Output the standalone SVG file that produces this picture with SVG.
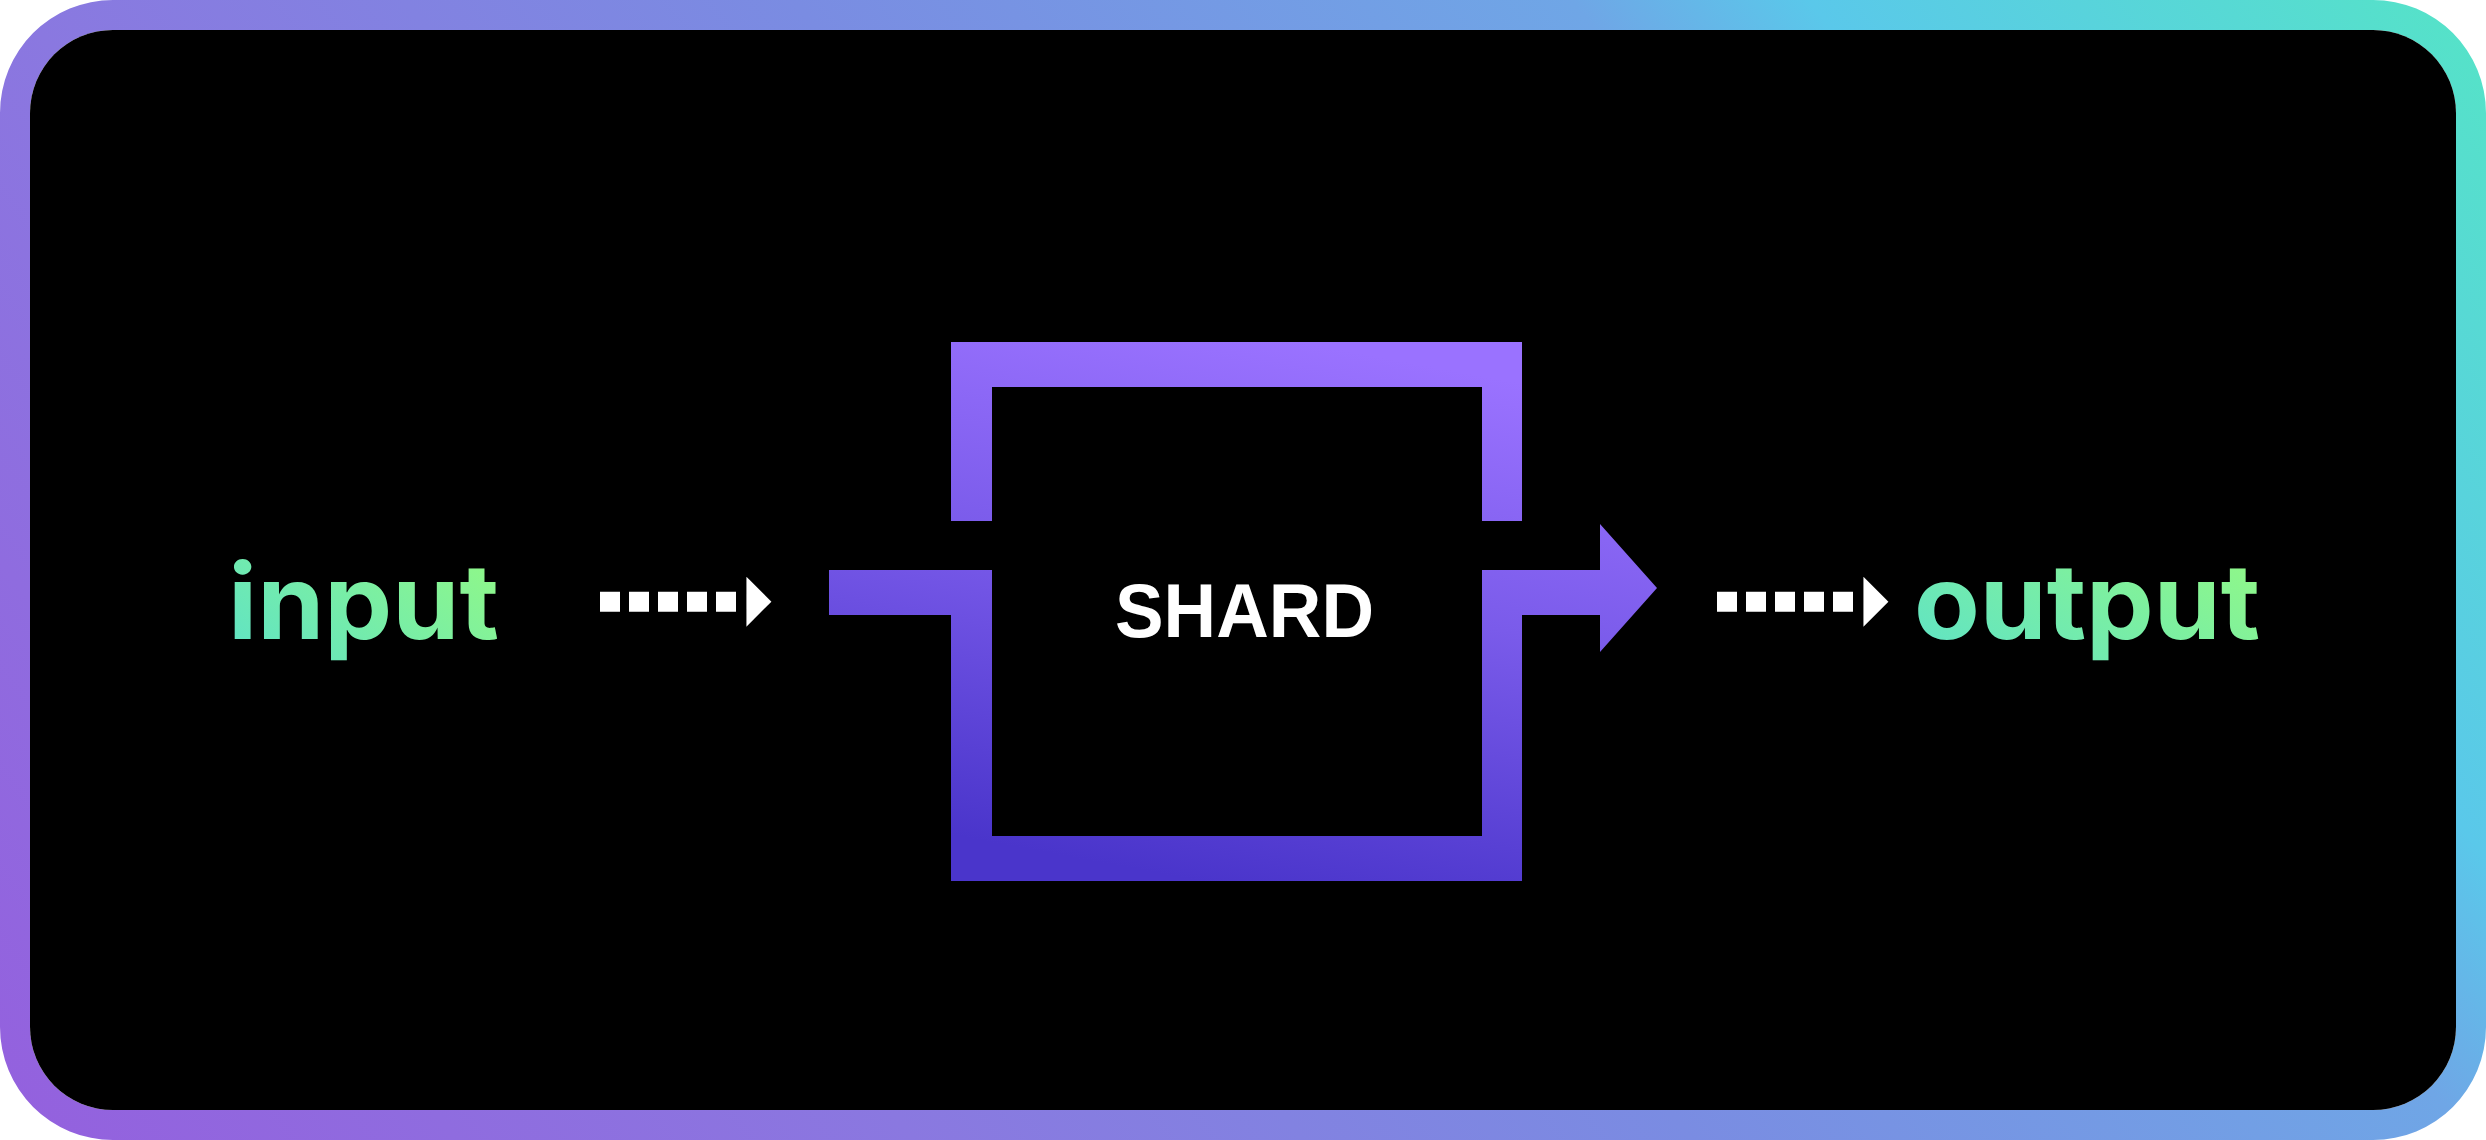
<svg xmlns="http://www.w3.org/2000/svg" width="2486" height="1140" viewBox="0 0 2486 1140">
  <defs>
    <linearGradient id="frameGrad" gradientUnits="userSpaceOnUse" x1="0" y1="1140" x2="2087" y2="-506">
      <stop offset="0" stop-color="#9460de"/>
      <stop offset="0.27" stop-color="#8a78e0"/>
      <stop offset="0.5" stop-color="#7a8ce2"/>
      <stop offset="0.73" stop-color="#6fa6e6"/>
      <stop offset="0.8" stop-color="#5ac8ea"/>
      <stop offset="1" stop-color="#55e4c6"/>
    </linearGradient>
    <linearGradient id="shardGrad" gradientUnits="userSpaceOnUse" x1="1300" y1="342" x2="1200" y2="881">
      <stop offset="0" stop-color="#9a72ff"/>
      <stop offset="0.45" stop-color="#7a5bea"/>
      <stop offset="1" stop-color="#4a35cb"/>
    </linearGradient>
    <linearGradient id="textGrad" x1="0" y1="0.8" x2="1" y2="0.2">
      <stop offset="0" stop-color="#62e4c2"/>
      <stop offset="1" stop-color="#90f888"/>
    </linearGradient>
    <marker id="tri" markerUnits="userSpaceOnUse" markerWidth="30" markerHeight="50" viewBox="0 0 24 48" refX="-10" refY="24" orient="auto">
      <polygon points="0,0 24,24 0,48" fill="#ffffff"/>
    </marker>
  </defs>
  <style>
    .label { font-family: Inter, "Liberation Sans", sans-serif; font-weight: 700; font-size: 104px; fill: url(#textGrad); }
    .shard-label { font-family: "Liberation Sans", Arial, sans-serif; font-weight: 700; font-size: 76px; fill: #ffffff; }
    .dots { stroke: #ffffff; stroke-width: 20; stroke-dasharray: 20 9; fill: none; marker-end: url(#tri); }
    .shard-shape { fill: url(#shardGrad); }
  </style>

  <g id="frame">
    <path fill="url(#frameGrad)" fill-rule="evenodd" d="M113,0 H2373 A113,113 0 0 1 2486,113 V1027 A113,113 0 0 1 2373,1140 H113 A113,113 0 0 1 0,1027 V113 A113,113 0 0 1 113,0 Z M113,30 A83,83 0 0 0 30,113 V1027 A83,83 0 0 0 113,1110 H2373 A83,83 0 0 0 2456,1027 V113 A83,83 0 0 0 2373,30 Z"/>
    <rect x="30" y="30" width="2426" height="1080" rx="83" ry="83" fill="#000000"/>
  </g>

  <g id="node-input">
    <text class="label" x="228" y="639" textLength="271" lengthAdjust="spacingAndGlyphs">input</text>
  </g>

  <g id="node-shard">
    <path class="shard-shape" d="M951,342 H1522 V521 H1482 V387 H992 V521 H951 Z"/>
    <path class="shard-shape" d="M829,570 H992 V836 H1482 V570 H1600 V524 L1657,588 L1600,652 V615 H1522 V881 H951 V615 H829 Z"/>
    <text class="shard-label" x="1115" y="637" textLength="259" lengthAdjust="spacingAndGlyphs">SHARD</text>
  </g>

  <g id="node-output">
    <text class="label" x="1914" y="639" textLength="346" lengthAdjust="spacingAndGlyphs">output</text>
  </g>

  <g id="connectors">
    <line class="dots" x1="600" y1="601.7" x2="736" y2="601.7"/>
    <line class="dots" x1="1717" y1="601.7" x2="1853" y2="601.7"/>
  </g>
</svg>
